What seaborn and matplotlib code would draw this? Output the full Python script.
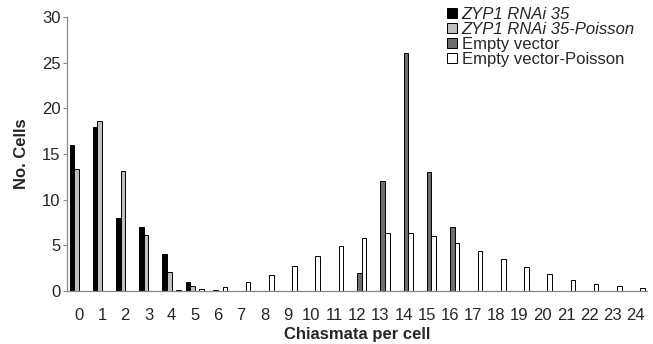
import numpy as np
import pandas as pd
import matplotlib
matplotlib.use("Agg")
import matplotlib.pyplot as plt
import seaborn as sns

# chiasmata per cell, 0..24
chiasmata = list(range(25))
nan = np.nan

zyp1 = [16, 18, 8, 7, 4, 1] + [nan] * 19
zyp1_poisson = [13.3, 18.6, 13.1, 6.1, 2.1, 0.6, 0.14, 0.03] + [nan] * 17
empty = [nan] * 12 + [2, 12, 26, 13, 7] + [nan] * 8
empty_poisson = [nan] * 4 + [0.07, 0.2, 0.47, 0.95, 1.7, 2.7, 3.8, 4.9, 5.8,
                             6.3, 6.35, 6.0, 5.3, 4.4, 3.5, 2.6, 1.85, 1.25,
                             0.8, 0.5, 0.3]

series_names = ["ZYP1 RNAi 35", "ZYP1 RNAi 35-Poisson",
                "Empty vector", "Empty vector-Poisson"]
colors = ["#000000", "#c0c0c0", "#6e6e6e", "#ffffff"]

rows = []
for name, vals in zip(series_names, [zyp1, zyp1_poisson, empty, empty_poisson]):
    for c, v in zip(chiasmata, vals):
        rows.append({"chiasmata": str(c), "cells": v, "series": name})
df = pd.DataFrame(rows)

sns.set_style("white")
plt.rcParams["font.family"] = ["Liberation Sans", "DejaVu Sans"]

fig = plt.figure(figsize=(6.53, 3.44), dpi=100)
ax = fig.add_axes([0.103, 0.154, 0.888, 0.797])

sns.barplot(data=df, x="chiasmata", y="cells", hue="series",
            hue_order=series_names, order=[str(c) for c in chiasmata],
            palette=colors, width=0.8, edgecolor="black", linewidth=0.7,
            errorbar=None, ax=ax)

ax.set_xlim(-0.5, 24.5)
ax.set_ylim(0, 30)
ax.set_yticks(range(0, 31, 5))
ax.set_xticks(np.arange(25))
ax.set_xticks(np.arange(-0.5, 25, 1), minor=True)
ax.tick_params(axis="x", which="major", length=0, labelsize=12, pad=12)
ax.tick_params(axis="x", which="minor", length=4, color="#888888", width=0.8)
ax.tick_params(axis="y", length=3, color="#888888", width=0.8,
               labelsize=12, pad=2, left=True)
for s in ["top", "right"]:
    ax.spines[s].set_visible(False)
for s in ["left", "bottom"]:
    ax.spines[s].set_color("#888888")
    ax.spines[s].set_linewidth(0.9)

ax.set_xlabel("Chiasmata per cell", fontsize=12, fontweight="bold", labelpad=3)
ax.set_ylabel("No. Cells", fontsize=12, fontweight="bold", labelpad=9)

leg = ax.legend(loc="upper right", bbox_to_anchor=(0.99, 1.06), frameon=False,
                fontsize=12, handlelength=0.6, handleheight=0.6,
                handletextpad=0.3, labelspacing=0.0, borderaxespad=0)
for t in leg.get_texts()[:2]:
    t.set_fontstyle("italic")

fig.savefig("out.png", dpi=100)
